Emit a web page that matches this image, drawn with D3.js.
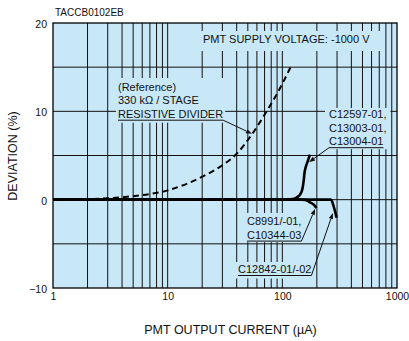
<!DOCTYPE html>
<html>
<head>
<meta charset="utf-8">
<script src="https://cdn.jsdelivr.net/npm/d3@7"></script>
<style>
  body { margin: 0; background: #fff; }
  svg { display: block; }
  text { font-family: "Liberation Sans", Arial, Helvetica, sans-serif; fill: #111; }
</style>
</head>
<body>
<svg id="chart" width="409" height="341"></svg>
<script>
// ---- data ----
const chartCode = "TACCB0102EB";
const xTickValues = [1, 10, 100, 1000];
const yTickValues = [-10, 0, 10, 20];
const yGridValues = [-5, 0, 5, 10, 15];
const xTitle = "PMT OUTPUT CURRENT (\u00B5A)";
const yTitle = "DEVIATION (%)";

// [output current (µA), deviation (%)]
const dividerSeries = [[1, 0], [2, 0.05], [3, 0.15], [5, 0.4], [10, 1.05], [20, 2.6], [30, 3.9],
  [40, 5.2], [55, 7.5], [73, 10], [90, 12], [118, 15]];
const c12597Series = [[1, 0], [50, 0], [100, 0], [123, 0.08], [135, 0.3], [143, 0.6], [148, 1.0],
  [151, 1.5], [154, 2.3], [156, 3.0], [160, 3.7], [165, 4.2], [170, 4.7], [174, 5.1]];
const c8991Series = [[1, 0], [50, 0], [100, 0], [150, 0], [165, -0.1], [174, -0.3], [185, -0.5],
  [192, -0.7], [198, -0.95]];
const c12842Series = [[1, 0], [50, 0], [100, 0], [200, 0], [265, 0], [272, -0.2], [278, -0.6],
  [288, -1.3], [297, -2.05]];

// ---- layout ----
const W = 409, H = 341;
const plot = { left: 53, right: 397, top: 23, bottom: 288 };
const bg = "#c8e8f8";

const svg = d3.select("#chart");
const x = d3.scaleLog().domain([1, 1000]).range([plot.left, plot.right]);
const y = d3.scaleLinear().domain([-10, 20]).range([plot.bottom, plot.top]);

// plot background
svg.append("rect")
  .attr("x", plot.left).attr("y", plot.top)
  .attr("width", plot.right - plot.left).attr("height", plot.bottom - plot.top)
  .attr("fill", bg);

// grid
const xGridValues = [];
[1, 10, 100].forEach(d => { for (let k = 2; k <= 10; k++) xGridValues.push(k * d); });
const grid = svg.append("g").attr("stroke", "#111").attr("stroke-width", 1);
grid.selectAll("line.v").data(xGridValues.filter(v => v < 1000)).join("line")
  .attr("class", "v")
  .attr("x1", d => x(d)).attr("x2", d => x(d))
  .attr("y1", plot.top).attr("y2", plot.bottom);
grid.selectAll("line.h").data(yGridValues).join("line")
  .attr("class", "h")
  .attr("x1", plot.left).attr("x2", plot.right)
  .attr("y1", d => y(d)).attr("y2", d => y(d));

// annotation labels with background boxes (boxes hide the grid beneath)
const labels = [
  { id: "supply", lines: ["PMT SUPPLY VOLTAGE: -1000 V"], left: 203, base: 43, pad: { l: 3, r: 12, t: 2, b: 6 }, underline: false },
  { id: "divider", lines: ["(Reference)", "330 k\u03A9 / STAGE", "RESISTIVE DIVIDER"], left: 118, base: 90.5, pad: { l: 2, r: 2, t: 2.5, b: 3 }, underline: true },
  { id: "c12597", lines: ["C12597-01,", "C13003-01,", "C13004-01"], left: 329, base: 118, pad: { l: 4, r: 4, t: 0, b: 2 }, underline: true },
  { id: "c8991", lines: ["C8991/-01,", "C10344-03"], left: 247, base: 225, pad: { l: 2, r: 1, t: 2, b: 1.5 }, underline: true },
  { id: "c12842", lines: ["C12842-01/-02"], left: 238, base: 273, pad: { l: 3, r: 3, t: 1, b: 3.5 }, underline: true }
];
const lineGap = 13.6;
const labelLayer = svg.append("g");
const underlineEnds = {};
labels.forEach(lb => {
  const g = labelLayer.append("g");
  const box = g.append("rect").attr("fill", bg);
  const t = g.append("text").attr("font-size", 11);
  lb.lines.forEach((s, i) => {
    t.append("tspan").attr("x", lb.left).attr("y", lb.base + i * lineGap).text(s);
  });
  const bb = t.node().getBBox();
  box.attr("x", bb.x - lb.pad.l).attr("y", bb.y - lb.pad.t)
    .attr("width", bb.width + lb.pad.l + lb.pad.r)
    .attr("height", bb.height + lb.pad.t + lb.pad.b);
  if (lb.underline) {
    const last = t.selectAll("tspan").nodes().pop();
    const lw = last.getComputedTextLength();
    const uy = lb.base + (lb.lines.length - 1) * lineGap + 2.5;
    g.append("line").attr("x1", lb.left).attr("x2", lb.left + lw)
      .attr("y1", uy).attr("y2", uy).attr("stroke", "#111").attr("stroke-width", 1);
    underlineEnds[lb.id] = { x0: lb.left, x1: lb.left + lw, y: uy };
  }
});

// curves
const lineGen = d3.line().x(d => x(d[0])).y(d => y(d[1])).curve(d3.curveMonotoneX);
const curves = svg.append("g").attr("fill", "none").attr("stroke", "#000");
curves.append("path").datum(dividerSeries).attr("d", lineGen)
  .attr("stroke-width", 2).attr("stroke-dasharray", "6,4");
[c8991Series, c12842Series, c12597Series].forEach(s => {
  curves.append("path").datum(s).attr("d", lineGen)
    .attr("stroke-width", 2.6).attr("stroke-linejoin", "round");
});

// leader arrows from labels to curves
function arrow(x1, y1, x2, y2) {
  const a = Math.atan2(y2 - y1, x2 - x1);
  const len = 6, hw = 2.2;
  const bx = x2 - len * Math.cos(a), by = y2 - len * Math.sin(a);
  svg.append("line").attr("x1", x1).attr("y1", y1).attr("x2", bx).attr("y2", by)
    .attr("stroke", "#111").attr("stroke-width", 1);
  svg.append("path")
    .attr("d", `M${x2},${y2}L${bx - hw * Math.sin(a)},${by + hw * Math.cos(a)}L${bx + hw * Math.sin(a)},${by - hw * Math.cos(a)}Z`)
    .attr("fill", "#111");
}
const ud = underlineEnds;
arrow(ud.divider.x1, ud.divider.y, x(54.3), y(7.47));
arrow(ud.c12597.x0, ud.c12597.y, x(171), y(4.25));
arrow(ud.c8991.x1, ud.c8991.y, x(193), y(-1.05));
arrow(ud.c12842.x1, ud.c12842.y, x(276), y(-1.5));

// frame
svg.append("rect")
  .attr("x", plot.left).attr("y", plot.top)
  .attr("width", plot.right - plot.left).attr("height", plot.bottom - plot.top)
  .attr("fill", "none").attr("stroke", "#000").attr("stroke-width", 1.3);

// axes (labels only)
const xAxis = svg.append("g").attr("transform", `translate(0,${plot.bottom})`)
  .call(d3.axisBottom(x).tickValues(xTickValues).tickFormat(d3.format("d")).tickSize(0).tickPadding(4.5));
xAxis.select(".domain").remove();
xAxis.selectAll("text").attr("font-size", 10.5).attr("font-family", null).attr("fill", "#111");
const yAxis = svg.append("g").attr("transform", `translate(${plot.left},0)`)
  .call(d3.axisLeft(y).tickValues(yTickValues).tickFormat(d3.format("d")).tickSize(0).tickPadding(6));
yAxis.select(".domain").remove();
yAxis.selectAll("text").attr("font-size", 10.5).attr("font-family", null).attr("fill", "#111").attr("dy", "0.42em");

// titles
svg.append("text").attr("x", 55).attr("y", 15.5).attr("font-size", 10).text(chartCode);
svg.append("text").attr("x", 230.5).attr("y", 334).attr("text-anchor", "middle")
  .attr("font-size", 12.5).text(xTitle);
svg.append("text").attr("transform", "translate(17,156) rotate(-90)").attr("text-anchor", "middle")
  .attr("font-size", 12.5).text(yTitle);
</script>
</body>
</html>
